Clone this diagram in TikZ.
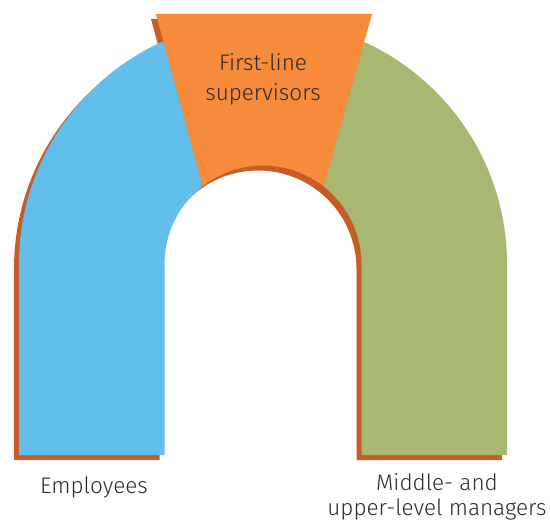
\documentclass[tikz,border=0pt]{standalone}
\usepackage{fontspec}
\setmainfont{Fira Sans Light}
\definecolor{cblue}{HTML}{62BEEA}
\definecolor{corange}{HTML}{F68B3B}
\definecolor{cgreen}{HTML}{A8B771}
\definecolor{cshadow}{HTML}{C65D27}
\definecolor{ctext}{HTML}{2B2B2B}
\begin{document}
\begin{tikzpicture}[x=1pt,y=-1pt,
  lab/.style={text=ctext,font=\fontsize{22.5}{30}\selectfont,inner sep=0pt,align=center},
  labb/.style={text=ctext,font=\fontsize{22.5}{25}\selectfont,inner sep=0pt,align=center}]
\useasboundingbox (0,0) rectangle (550,527);
\def\archpath{(19,455) -- (19,264) arc[start angle=180,end angle=360,radius=244] -- (507,455) -- (361.5,455) -- (361.5,264) arc[start angle=0,end angle=-180,radius=98.5] -- (164.5,455) -- cycle}
% shadow
\begin{scope}[shift={(-5,5)}]
  \fill[cshadow] \archpath;
  \fill[cshadow] (156,14) -- (372,14) -- (334,150) -- (193,150) -- cycle;
\end{scope}
% blue part
\begin{scope}
  \clip (0,-100) -- (125,-100) -- (315.5,600) -- (0,600) -- cycle;
  \fill[cblue] \archpath;
\end{scope}
% green part
\begin{scope}
  \clip (404,-100) -- (600,-100) -- (600,600) -- (207.5,600) -- cycle;
  \fill[cgreen] \archpath;
\end{scope}
% orange part
\begin{scope}
  \clip (156,14) -- (372,14) -- (302,264) -- (224,264) -- cycle;
  \fill[corange,even odd rule] (0,0) rectangle (550,300) (263,264) circle[radius=98.5];
\end{scope}
\node[lab,anchor=base] (sup) at (263,101) {First-line\\supervisors};
\node[lab,anchor=base] (emp) at (94,493) {Employees};
\node[labb,anchor=base] (mgr) at (437,515) {Middle- and\\upper-level managers};
\end{tikzpicture}
\end{document}
